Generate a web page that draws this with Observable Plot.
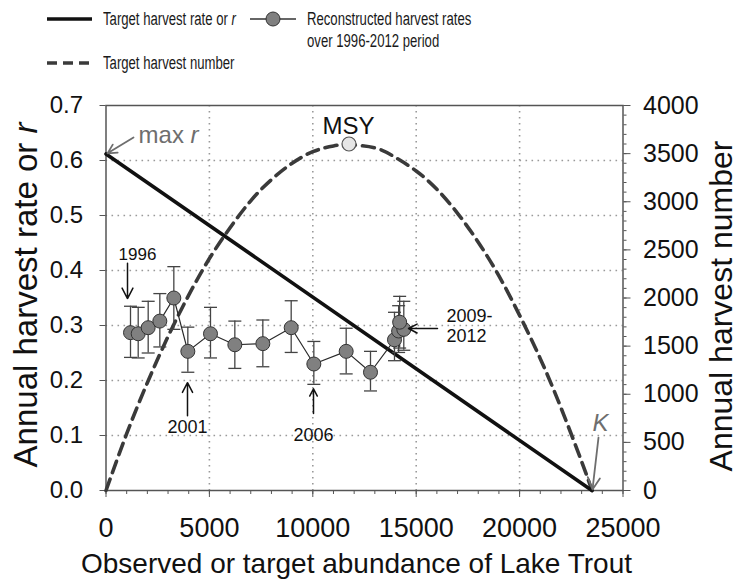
<!DOCTYPE html>
<html>
<head>
<meta charset="utf-8">
<script src="https://cdn.jsdelivr.net/npm/d3@7"></script>
<script src="https://cdn.jsdelivr.net/npm/@observablehq/plot@0.6"></script>
<style>
  html, body { margin: 0; padding: 0; background: #fff; }
  #wrap { width: 742px; font-family: 'Liberation Sans', Arial, sans-serif; }
  #legend { position: relative; width: 742px; height: 90px; }
  #legend .lt { position: absolute; font-size: 18px; line-height: 22px; color: #1a1a1a;
    white-space: nowrap; transform: scaleX(0.73); transform-origin: left center; }
  #legend svg { position: absolute; left: 0; top: 0; }
</style>
</head>
<body>
<div id="wrap">
  <div id="legend">
    <svg width="742" height="90">
      <line x1="47" x2="92" y1="19" y2="19" stroke="#111" stroke-width="3.5"/>
      <line x1="47" x2="92" y1="63" y2="63" stroke="#3a3a3a" stroke-width="3.5" stroke-dasharray="10,6"/>
      <line x1="250" x2="296" y1="19" y2="19" stroke="#333" stroke-width="1.3"/>
      <circle cx="273" cy="19" r="7" fill="#808080" stroke="#333" stroke-width="1"/>
    </svg>
    <div class="lt" style="left:103px; top:8px;">Target harvest rate or <i>r</i></div>
    <div class="lt" style="left:307px; top:8px;">Reconstructed harvest rates</div>
    <div class="lt" style="left:307px; top:30px;">over 1996-2012 period</div>
    <div class="lt" style="left:103px; top:52px;">Target harvest number</div>
  </div>
  <div id="chart"></div>
</div>
<script>
// ---------- data ----------
const years = [1996, 1997, 1998, 1999, 2000, 2001, 2002, 2003, 2004, 2005, 2006, 2007, 2008, 2009, 2010, 2011, 2012];
const abundance = [1185, 1557, 2040, 2603, 3280, 3957, 5053, 6230, 7584, 8955, 10050, 11614, 12790, 13950, 14150, 14400, 14200];
const harvestRate = [0.287, 0.285, 0.296, 0.308, 0.350, 0.253, 0.285, 0.265, 0.267, 0.296, 0.230, 0.253, 0.215, 0.274, 0.290, 0.293, 0.306];
const rateLow  = [0.242, 0.241, 0.250, 0.261, 0.293, 0.215, 0.241, 0.222, 0.225, 0.251, 0.193, 0.212, 0.181, 0.236, 0.251, 0.255, 0.259];
const rateHigh = [0.335, 0.333, 0.344, 0.358, 0.407, 0.297, 0.333, 0.308, 0.310, 0.345, 0.271, 0.295, 0.253, 0.324, 0.336, 0.344, 0.353];

// target harvest rate (solid line): from max r at N=0 down to K
const targetN = [0, 23500];
const targetRate = [0.612, 0];

// target harvest number (dashed curve)
const curveN = [0, 1000, 2000, 3000, 4000, 5000, 6000, 7000, 8000, 9000, 10000, 11000, 11750, 12000, 13000, 14000, 15000, 16000, 17000, 18000, 19000, 20000, 21000, 22000, 23000, 23500];
const curveHarvest = [0, 590, 1120, 1600, 2030, 2410, 2730, 3010, 3230, 3400, 3520, 3580, 3600, 3590, 3560, 3460, 3320, 3130, 2880, 2580, 2230, 1820, 1370, 860, 300, 0];

const msyN = 11750, msyHarvest = 3600;

// axis ticks
const xTicks = [0, 5000, 10000, 15000, 20000, 25000];
const leftTicks = [0, 0.1, 0.2, 0.3, 0.4, 0.5, 0.6, 0.7];
const rightTicks = [0, 500, 1000, 1500, 2000, 2500, 3000, 3500, 4000];
const gridX = [5000, 10000, 15000, 20000];
const gridY = [0.1, 0.2, 0.3, 0.4, 0.5, 0.6];

// annotation texts and anchors (data units)
const yearLabels = [
  {text: "1996", n: 1523, r: 0.420, anchor: "bottom"},
  {text: "2001", n: 3941, r: 0.127, anchor: "top"},
  {text: "2006", n: 10034, r: 0.113, anchor: "top"}
];
const yearArrows = [
  {n1: 1040, r1: 0.413, n2: 1040, r2: 0.349},
  {n1: 3941, r1: 0.136, n2: 3941, r2: 0.196},
  {n1: 10034, r1: 0.140, n2: 10034, r2: 0.185},
  {n1: 16030, r1: 0.2945, n2: 14628, r2: 0.2945}
];
const rangeLabel = {text: "2009-\n2012", n: 16465, r: 0.300};
const maxRLabel = {text: "max r", n: 1576, r: 0.631};
const msyLabel = {text: "MSY", n: 11726, r: 0.649};
const kLabel = {text: "K", n: 23912, r: 0.109};
const grayArrows = [
  {n1: 1330, r1: 0.642, n2: 73, r2: 0.613},
  {n1: 23815, r1: 0.096, n2: 23525, r2: 0.002}
];

const xTitle = "Observed or target abundance of Lake Trout";
const yTitle = "Annual harvest rate or r";
const y2Title = "Annual harvest number";

// ---------- build ----------
const k = 0.7 / 4000; // right axis (harvest number) -> left axis units
const obs = years.map((year, i) => ({year, n: abundance[i], r: harvestRate[i], lo: rateLow[i], hi: rateHigh[i]}));
const target = targetN.map((n, i) => ({n, r: targetRate[i]}));
const curve = curveN.map((n, i) => ({n, h: curveHarvest[i]}));
const rightMinor = d3.range(0, 4001, 100).map(h => h * k);
const cap = {draw(ctx) { ctx.moveTo(-6.5, 0); ctx.lineTo(6.5, 0); }};
const fmt = d3.format("d");

const chart = Plot.plot({
  width: 742,
  height: 492,
  marginTop: 15,
  marginBottom: 92,
  marginLeft: 105.5,
  marginRight: 119.5,
  style: {fontFamily: "'Liberation Sans', Arial, sans-serif", background: "#fff", color: "#111"},
  x: {domain: [0, 25000]},
  y: {domain: [0, 0.7]},
  marks: [
    Plot.gridX(gridX, {stroke: "#9a9a9a", strokeOpacity: 1, strokeWidth: 1.6, strokeDasharray: "1.6,4.4"}),
    Plot.gridY(gridY, {stroke: "#9a9a9a", strokeOpacity: 1, strokeWidth: 1.6, strokeDasharray: "1.6,4.4"}),
    // axes
    Plot.axisX({ticks: 25, tickSize: 4, tickFormat: () => "", stroke: "#555", label: null}),
    Plot.axisX({ticks: xTicks, tickSize: 7, tickPadding: 20, tickFormat: fmt, fontSize: 27, stroke: "#555", fill: "#111", label: null}),
    Plot.axisY({anchor: "left", ticks: leftTicks, tickSize: 6, tickPadding: 17, tickFormat: d3.format(".1f"), fontSize: 24, stroke: "#555", fill: "#111", label: null}),
    Plot.axisY({anchor: "right", ticks: rightMinor, tickSize: 3, tickFormat: () => "", stroke: "#555", label: null}),
    Plot.axisY({anchor: "right", ticks: rightTicks.map(h => h * k), tickSize: 7, tickPadding: 13, tickFormat: d => fmt(Math.round(d / k)), fontSize: 25, stroke: "#555", fill: "#111", label: null}),
    Plot.frame({stroke: "#555", strokeWidth: 1.5}),
    // axis titles
    Plot.text([xTitle], {frameAnchor: "bottom", dx: -8, dy: 82, textAnchor: "middle", lineAnchor: "bottom", fontSize: 28, fill: "#111"}),
    Plot.text([yTitle], {frameAnchor: "left", dx: -80, dy: -3, rotate: -90, textAnchor: "middle", lineAnchor: "middle", fontSize: 33, fill: "#111"}),
    Plot.text([y2Title], {frameAnchor: "right", dx: 99, dy: 8, rotate: -90, textAnchor: "middle", lineAnchor: "middle", fontSize: 32, fill: "#111"}),
    // model lines
    Plot.line(curve, {x: "n", y: d => d.h * k, curve: "natural", stroke: "#3a3a3a", strokeWidth: 3.6, strokeDasharray: "12,7"}),
    Plot.line(target, {x: "n", y: "r", stroke: "#111", strokeWidth: 3.6}),
    Plot.dot([{n: msyN, h: msyHarvest}], {x: "n", y: d => d.h * k, r: 7, fill: "#e6e6e6", stroke: "#555", strokeWidth: 1.2}),
    // observations
    Plot.ruleX(obs, {x: "n", y1: "lo", y2: "hi", stroke: "#444", strokeWidth: 1.3}),
    Plot.dot(obs, {x: "n", y: "lo", symbol: cap, stroke: "#444", strokeWidth: 1.3}),
    Plot.dot(obs, {x: "n", y: "hi", symbol: cap, stroke: "#444", strokeWidth: 1.3}),
    Plot.line(obs, {x: "n", y: "r", stroke: "#2a2a2a", strokeWidth: 1.2}),
    Plot.dot(obs, {x: "n", y: "r", r: 7, fill: "#808080", stroke: "#333", strokeWidth: 1}),
    // annotations
    Plot.arrow(yearArrows, {x1: "n1", y1: "r1", x2: "n2", y2: "r2", stroke: "#111", strokeWidth: 1.5, headLength: 13, headAngle: 55}),
    Plot.text(yearLabels.filter(d => d.anchor === "bottom"), {x: "n", y: "r", text: "text", lineAnchor: "bottom", fontSize: 17, fill: "#111"}),
    Plot.text(yearLabels.filter(d => d.anchor === "top"), {x: "n", y: "r", text: "text", lineAnchor: "top", fontSize: 18, fill: "#111"}),
    Plot.text([rangeLabel], {x: "n", y: "r", text: "text", textAnchor: "start", lineAnchor: "middle", lineHeight: 1.1, fontSize: 18, fill: "#111"}),
    Plot.arrow(grayArrows, {x1: "n1", y1: "r1", x2: "n2", y2: "r2", stroke: "#6e6e6e", strokeWidth: 1.8, headLength: 11, headAngle: 55}),
    Plot.text([maxRLabel], {x: "n", y: "r", text: "text", textAnchor: "start", lineAnchor: "bottom", fontSize: 24, fill: "#6e6e6e"}),
    Plot.text([msyLabel], {x: "n", y: "r", text: "text", lineAnchor: "bottom", fontSize: 24, fill: "#111"}),
    Plot.text([kLabel], {x: "n", y: "r", text: "text", lineAnchor: "bottom", fontSize: 24, fontStyle: "italic", fill: "#6e6e6e"})
  ]
});

// italic "r" inside mixed-style labels
function italicizeTail(svg, full, head, tail) {
  d3.select(svg).selectAll("text").filter(function () { return this.textContent === full && this.children.length === 0; })
    .each(function () {
      const t = d3.select(this);
      t.text(null);
      t.append("tspan").text(head);
      t.append("tspan").attr("font-style", "italic").text(tail);
    });
}
italicizeTail(chart, yTitle, "Annual harvest rate or ", "r");
italicizeTail(chart, maxRLabel.text, "max ", "r");

document.getElementById("chart").appendChild(chart);
</script>
</body>
</html>
